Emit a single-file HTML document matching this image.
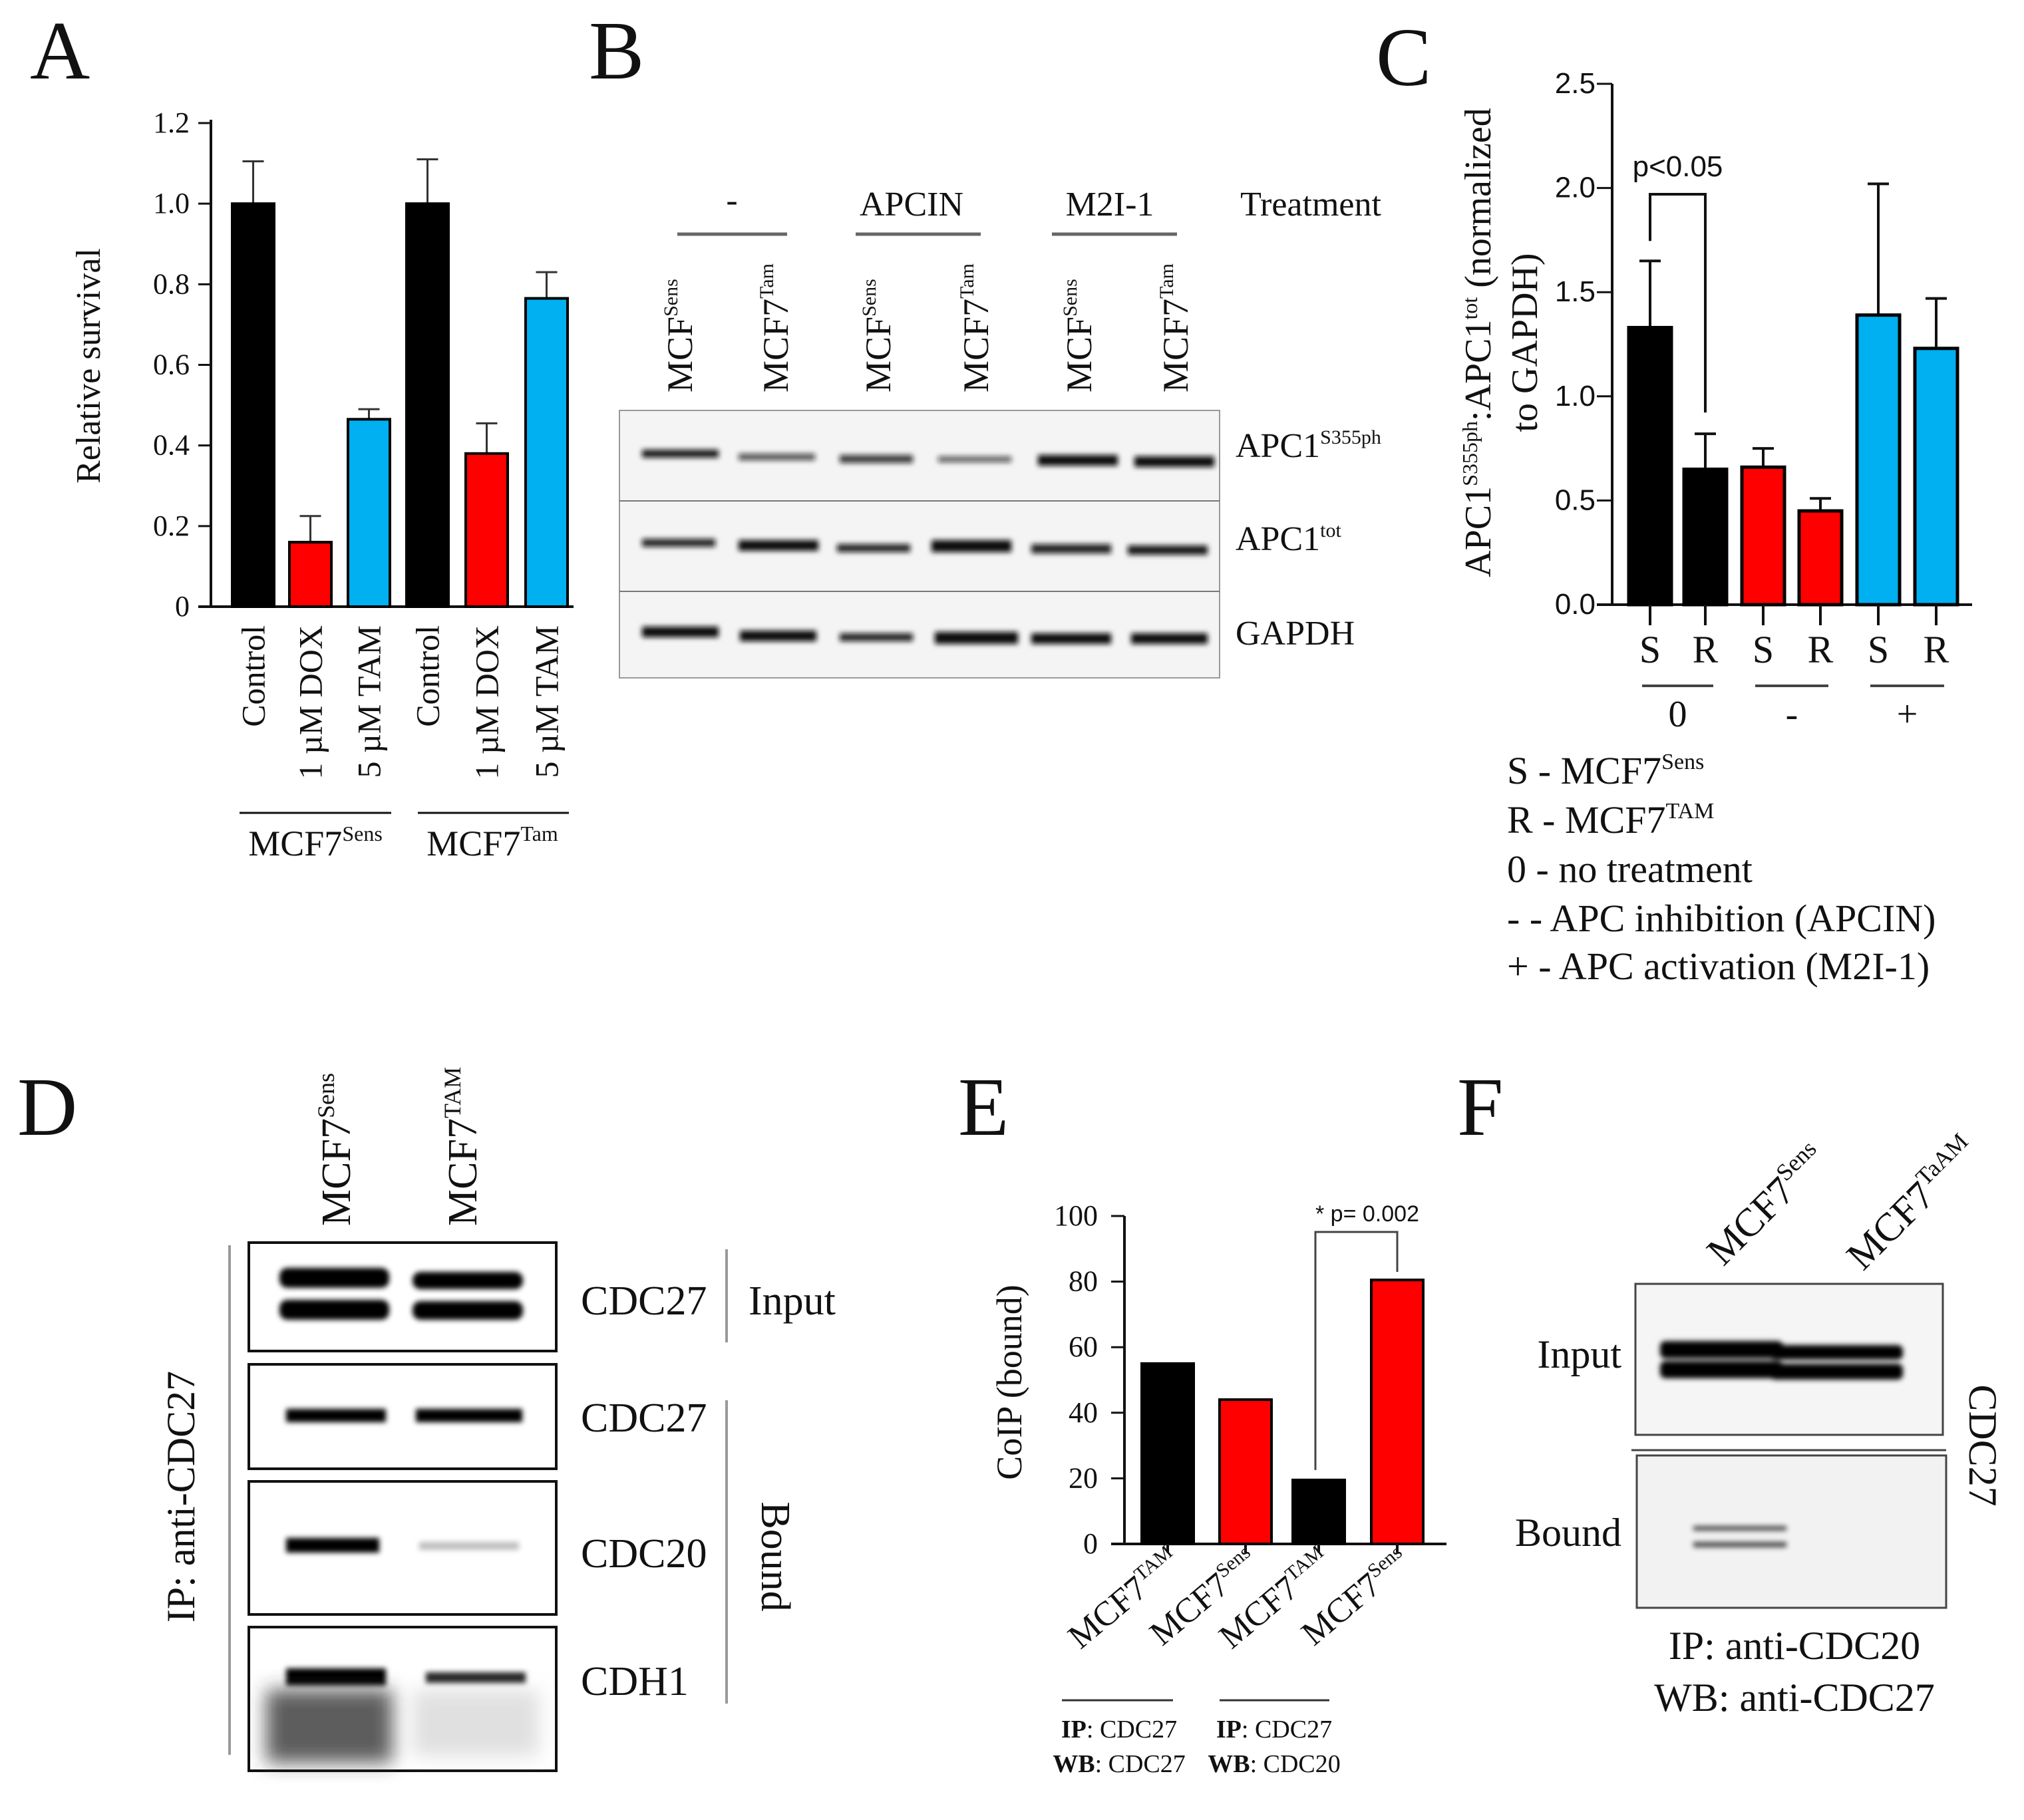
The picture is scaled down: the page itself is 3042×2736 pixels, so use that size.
<!DOCTYPE html>
<html><head><meta charset="utf-8"><style>
body{margin:0;background:#fff}
svg{display:block}
text{font-family:"Liberation Serif",serif;fill:#111}
.s{font-family:"Liberation Sans",sans-serif}
</style></head><body>
<svg id="fig" width="3042" height="2736" viewBox="0 0 3042 2736" xmlns="http://www.w3.org/2000/svg">
<defs>
<filter id="bl" x="-20%" y="-100%" width="140%" height="300%"><feGaussianBlur stdDeviation="4"/></filter>
<filter id="bl2" x="-20%" y="-50%" width="140%" height="200%"><feGaussianBlur stdDeviation="14"/></filter>
</defs>
<!-- panel letters -->
<text x="45" y="118" font-size="125">A</text>
<text x="885" y="118" font-size="125">B</text>
<text x="2068" y="128" font-size="125">C</text>
<text x="26" y="1706" font-size="125">D</text>
<text x="1440" y="1706" font-size="125">E</text>
<text x="2190" y="1706" font-size="125">F</text>

<g id="pa"></g>
<g id="pc"></g>
<g id="pe"></g>

<!-- Panel A static labels -->
<text transform="translate(150,550) rotate(-90)" font-size="52" text-anchor="middle">Relative survival</text>
<line x1="360" y1="1222" x2="588" y2="1222" stroke="#111" stroke-width="3"/>
<line x1="628" y1="1222" x2="855" y2="1222" stroke="#111" stroke-width="3"/>
<text x="474" y="1286" font-size="54" text-anchor="middle">MCF7<tspan font-size="32" dy="-22">Sens</tspan></text>
<text x="740" y="1286" font-size="54" text-anchor="middle">MCF7<tspan font-size="32" dy="-22">Tam</tspan></text>

<!-- Panel B -->
<g>
<text x="1100" y="318" font-size="52" text-anchor="middle">-</text>
<text x="1370" y="324" font-size="52" text-anchor="middle">APCIN</text>
<text x="1668" y="324" font-size="52" text-anchor="middle">M2I-1</text>
<text x="1970" y="324" font-size="52" text-anchor="middle">Treatment</text>
<line x1="1018" y1="352" x2="1183" y2="352" stroke="#666" stroke-width="5"/>
<line x1="1286" y1="352" x2="1474" y2="352" stroke="#666" stroke-width="5"/>
<line x1="1581" y1="352" x2="1769" y2="352" stroke="#666" stroke-width="5"/>
<g font-size="54">
<text transform="translate(1040,590) rotate(-90)">MCF<tspan font-size="30" dy="-22">Sens</tspan></text>
<text transform="translate(1184,590) rotate(-90)">MCF7<tspan font-size="30" dy="-22">Tam</tspan></text>
<text transform="translate(1338,590) rotate(-90)">MCF<tspan font-size="30" dy="-22">Sens</tspan></text>
<text transform="translate(1485,590) rotate(-90)">MCF7<tspan font-size="30" dy="-22">Tam</tspan></text>
<text transform="translate(1640,590) rotate(-90)">MCF<tspan font-size="30" dy="-22">Sens</tspan></text>
<text transform="translate(1785,590) rotate(-90)">MCF7<tspan font-size="30" dy="-22">Tam</tspan></text>
</g>
<rect x="931" y="617" width="902" height="402" fill="#f4f4f4" stroke="#999" stroke-width="2"/>
<line x1="931" y1="753" x2="1833" y2="753" stroke="#777" stroke-width="2"/>
<line x1="931" y1="889" x2="1833" y2="889" stroke="#777" stroke-width="2"/>
<g fill="#111" filter="url(#bl)">
<rect x="965" y="676" width="115" height="12" opacity=".95"/><rect x="1110" y="682" width="115" height="10" opacity=".7"/><rect x="1262" y="684" width="110" height="12" opacity=".8"/><rect x="1410" y="686" width="110" height="9" opacity=".65"/><rect x="1560" y="684" width="120" height="16" opacity="1"/><rect x="1705" y="686" width="120" height="16" opacity="1"/>
<rect x="965" y="810" width="110" height="12" opacity=".9"/><rect x="1110" y="812" width="120" height="16" opacity="1"/><rect x="1258" y="818" width="110" height="12" opacity=".9"/><rect x="1400" y="812" width="120" height="18" opacity="1"/><rect x="1550" y="818" width="120" height="14" opacity=".9"/><rect x="1695" y="820" width="120" height="14" opacity=".95"/>
<rect x="965" y="942" width="115" height="16" opacity="1"/><rect x="1112" y="948" width="115" height="16" opacity="1"/><rect x="1262" y="952" width="110" height="12" opacity=".9"/><rect x="1405" y="950" width="125" height="18" opacity="1"/><rect x="1550" y="952" width="120" height="16" opacity="1"/><rect x="1700" y="952" width="115" height="16" opacity="1"/>
</g>
<text x="1857" y="687" font-size="52">APC1<tspan font-size="30" dy="-20">S355ph</tspan></text>
<text x="1857" y="827" font-size="52">APC1<tspan font-size="30" dy="-20">tot</tspan></text>
<text x="1857" y="969" font-size="52">GAPDH</text>
</g>

<!-- Panel C static -->
<text transform="translate(2240,515) rotate(-90)" font-size="56" text-anchor="middle">APC1<tspan font-size="32" dy="-20">S355ph</tspan><tspan dy="20">:APC1</tspan><tspan font-size="32" dy="-20">tot</tspan><tspan dy="20"> (normalized</tspan></text>
<text transform="translate(2310,515) rotate(-90)" font-size="56" text-anchor="middle">to GAPDH)</text>
<g font-size="58">
<text x="2265" y="1178">S  - MCF7<tspan font-size="34" dy="-22">Sens</tspan></text>
<text x="2265" y="1252">R - MCF7<tspan font-size="34" dy="-22">TAM</tspan></text>
<text x="2265" y="1326">0   - no treatment</text>
<text x="2265" y="1400">-    - APC inhibition (APCIN)</text>
<text x="2265" y="1472">+   - APC activation (M2I-1)</text>
</g>

<!-- Panel D -->
<g>
<text transform="translate(526,1843) rotate(-90)" font-size="62">MCF7<tspan font-size="36" dy="-24">Sens</tspan></text>
<text transform="translate(716,1843) rotate(-90)" font-size="62">MCF7<tspan font-size="36" dy="-24">TAM</tspan></text>
<line x1="345" y1="1872" x2="345" y2="2638" stroke="#999" stroke-width="4"/>
<text transform="translate(292,2250) rotate(-90)" font-size="60" text-anchor="middle">IP: anti-CDC27</text>
<g fill="#fff" stroke="#111" stroke-width="4">
<rect x="374" y="1868" width="462" height="163"/><rect x="374" y="2051" width="462" height="157"/><rect x="374" y="2227" width="462" height="200"/><rect x="374" y="2446" width="462" height="216"/>
</g>
<g fill="#000" filter="url(#bl)">
<rect x="420" y="1906" width="165" height="30" rx="12"/><rect x="420" y="1954" width="165" height="30" rx="12"/>
<rect x="620" y="1912" width="166" height="26" rx="12"/><rect x="620" y="1956" width="166" height="28" rx="12"/>
<rect x="430" y="2118" width="150" height="20"/><rect x="625" y="2118" width="160" height="20"/>
<rect x="430" y="2312" width="140" height="22"/><rect x="630" y="2318" width="150" height="12" opacity=".25"/>
<rect x="430" y="2508" width="150" height="26"/><rect x="640" y="2514" width="150" height="16" opacity=".85"/>
</g>
<g filter="url(#bl2)"><rect x="400" y="2540" width="190" height="110" fill="#333" opacity=".8"/><rect x="620" y="2540" width="190" height="100" fill="#999" opacity=".3"/></g>
<g font-size="62">
<text x="873" y="1976">CDC27</text><text x="873" y="2152">CDC27</text><text x="873" y="2356">CDC20</text><text x="873" y="2548">CDH1</text>
<text x="1125" y="1976">Input</text>
</g>
<line x1="1092" y1="1878" x2="1092" y2="2018" stroke="#999" stroke-width="4"/>
<line x1="1092" y1="2105" x2="1092" y2="2561" stroke="#999" stroke-width="4"/>
<text transform="translate(1145,2340) rotate(90)" font-size="62" text-anchor="middle">Bound</text>
</g>

<!-- Panel E static -->
<text transform="translate(1535,2078) rotate(-90)" font-size="54" text-anchor="middle">CoIP (bound)</text>
<line x1="1596" y1="2556" x2="1763" y2="2556" stroke="#333" stroke-width="3"/>
<line x1="1833" y1="2556" x2="1998" y2="2556" stroke="#333" stroke-width="3"/>
<g font-size="38">
<text x="1682" y="2612" text-anchor="middle"><tspan font-weight="bold">IP</tspan>: CDC27</text>
<text x="1682" y="2664" text-anchor="middle"><tspan font-weight="bold">WB</tspan>: CDC27</text>
<text x="1915" y="2612" text-anchor="middle"><tspan font-weight="bold">IP</tspan>: CDC27</text>
<text x="1915" y="2664" text-anchor="middle"><tspan font-weight="bold">WB</tspan>: CDC20</text>
</g>

<!-- Panel F -->
<g>
<text transform="translate(2590,1905) rotate(-45)" font-size="60">MCF7<tspan font-size="36" dy="-24">Sens</tspan></text>
<text transform="translate(2800,1912) rotate(-45)" font-size="60">MCF7<tspan font-size="36" dy="-24">TaAM</tspan></text>
<rect x="2458" y="1930" width="462" height="227" fill="#f5f5f5" stroke="#444" stroke-width="3"/>
<line x1="2452" y1="2180" x2="2925" y2="2180" stroke="#444" stroke-width="3"/>
<rect x="2460" y="2188" width="465" height="229" fill="#f2f2f2" stroke="#444" stroke-width="3"/>
<g fill="#000" filter="url(#bl)">
<rect x="2495" y="2016" width="185" height="26" rx="8"/><rect x="2495" y="2046" width="185" height="26" rx="8"/>
<rect x="2660" y="2022" width="200" height="22" rx="8"/><rect x="2660" y="2050" width="200" height="24" rx="8"/>
<rect x="2545" y="2294" width="140" height="7" opacity=".7"/><rect x="2545" y="2318" width="140" height="8" opacity=".7"/>
</g>
<text x="2437" y="2056" font-size="60" text-anchor="end">Input</text>
<text x="2437" y="2324" font-size="60" text-anchor="end">Bound</text>
<text transform="translate(2960,2173) rotate(90)" font-size="60" text-anchor="middle">CDC27</text>
<text x="2697" y="2494" font-size="60" text-anchor="middle">IP: anti-CDC20</text>
<text x="2697" y="2572" font-size="60" text-anchor="middle">WB: anti-CDC27</text>
</g>
</svg>
<script>
// Panel A data
const aCats = ["Control","1 µM DOX","5 µM TAM","Control","1 µM DOX","5 µM TAM"];
const aVals = [1.0,0.16,0.465,1.0,0.38,0.765];
const aErr = [0.105,0.065,0.025,0.11,0.075,0.065];
const aColors = ["#000","#f00","#00b0f0","#000","#f00","#00b0f0"];
const aTicks = ["0","0.2","0.4","0.6","0.8","1.0","1.2"];
// Panel C data
const cCats = ["S","R","S","R","S","R"];
const cVals = [1.33,0.65,0.66,0.45,1.39,1.23];
const cErr = [0.32,0.17,0.09,0.06,0.63,0.24];
const cColors = ["#000","#000","#f00","#f00","#00b0f0","#00b0f0"];
const cTicks = ["0.0","0.5","1.0","1.5","2.0","2.5"];
const cGroups = ["0","-","+"];
// Panel E data
const eCats = ["MCF7TAM","MCF7Sens","MCF7TAM","MCF7Sens"];
const eVals = [55,44,19.5,80.5];
const eColors = ["#000","#f00","#000","#f00"];
const eTicks = ["0","20","40","60","80","100"];

const NS="http://www.w3.org/2000/svg";
function mk(p,tag,at){const e=document.createElementNS(NS,tag);for(const k in at)e.setAttribute(k,at[k]);p.appendChild(e);return e;}

// Panel A
(function(){
 const g=document.getElementById('pa');
 const x0=317,xe=862,y0=912,y1=185,vmax=1.2;
 const Y=v=>y0-(v/vmax)*(y0-y1);
 const lefts=[349,435,523,611,700,790],w=63;
 mk(g,'line',{x1:x0,y1:y1-5,x2:x0,y2:y0,stroke:'#111','stroke-width':4});
 mk(g,'line',{x1:298,y1:y0,x2:xe,y2:y0,stroke:'#111','stroke-width':4});
 aTicks.forEach(t=>{const v=parseFloat(t);
  mk(g,'line',{x1:298,y1:Y(v),x2:x0,y2:Y(v),stroke:'#111','stroke-width':3});
  const tx=mk(g,'text',{x:285,y:Y(v)+14,'font-size':44,'text-anchor':'end'});tx.textContent=t;
  
  });
 aVals.forEach((v,i)=>{const x=lefts[i];
  const cx=x+w/2;
  mk(g,'line',{x1:cx,y1:Y(v),x2:cx,y2:Y(v+aErr[i]),stroke:'#333','stroke-width':3});
  mk(g,'line',{x1:cx-16,y1:Y(v+aErr[i]),x2:cx+16,y2:Y(v+aErr[i]),stroke:'#333','stroke-width':3});
  const r=mk(g,'rect',{x:x,y:Y(v),width:w,height:y0-Y(v),fill:aColors[i],stroke:'#000','stroke-width':4});
  
  
  const t=mk(g,'text',{transform:`translate(${cx+17},940) rotate(-90)`,'font-size':50,'text-anchor':'end'});t.textContent=aCats[i];
  
  
 });
})();

// Panel C
(function(){
 const g=document.getElementById('pc');
 const x0=2423,xe=2964,y0=909,y1=126,vmax=2.5;
 const Y=v=>y0-(v/vmax)*(y0-y1);
 const lefts=[2448,2531,2618,2704,2791,2878],w=64;
 mk(g,'line',{x1:x0,y1:y1,x2:x0,y2:y0,stroke:'#111','stroke-width':4});
 mk(g,'line',{x1:2400,y1:y0,x2:xe,y2:y0,stroke:'#111','stroke-width':4});
 cTicks.forEach(t=>{const v=parseFloat(t);
  mk(g,'line',{x1:2400,y1:Y(v),x2:x0,y2:Y(v),stroke:'#111','stroke-width':3});
  const tx=mk(g,'text',{x:2398,y:Y(v)+14,'font-size':44,'text-anchor':'end'});tx.textContent=t;
  tx.setAttribute('class','s');
  
  });
 cVals.forEach((v,i)=>{const x=lefts[i],cx=x+w/2;
  mk(g,'line',{x1:cx,y1:Y(v),x2:cx,y2:Y(v+cErr[i]),stroke:'#111','stroke-width':4});
  mk(g,'line',{x1:cx-16,y1:Y(v+cErr[i]),x2:cx+16,y2:Y(v+cErr[i]),stroke:'#111','stroke-width':4});
  const r=mk(g,'rect',{x:x,y:Y(v),width:w,height:y0-Y(v),fill:cColors[i],stroke:'#000','stroke-width':5});
  
  
  mk(g,'line',{x1:cx,y1:y0,x2:cx,y2:940,stroke:'#111','stroke-width':4});
  const t=mk(g,'text',{x:cx,y:996,'font-size':58,'text-anchor':'middle'});t.textContent=cCats[i];
  
  
 });
 cGroups.forEach((s,j)=>{const a=lefts[2*j]+w/2-12,b=lefts[2*j+1]+w/2+12;
  mk(g,'line',{x1:a,y1:1031,x2:b,y2:1031,stroke:'#444','stroke-width':4});
  const t=mk(g,'text',{x:(a+b)/2,y:1092,'font-size':56,'text-anchor':'middle'});t.textContent=s;
  
  });
 const l=lefts[0]+w/2,r=lefts[1]+w/2;
 mk(g,'polyline',{points:`${l},${Y(1.65)-30} ${l},292 ${r},292 ${r},${Y(cVals[1]+cErr[1])-32}`,fill:'none',stroke:'#111','stroke-width':4});
 const pt=mk(g,'text',{x:(l+r)/2,y:265,'font-size':44,'text-anchor':'middle',class:'s'});pt.textContent='p<0.05';
})();

// Panel E
(function(){
 const g=document.getElementById('pe');
 const x0=1690,xe=2174,y0=2321,y1=1828,vmax=100;
 const Y=v=>y0-(v/vmax)*(y0-y1);
 const lefts=[1716,1833,1943,2061],w=78;
 mk(g,'line',{x1:x0,y1:y1,x2:x0,y2:y0,stroke:'#111','stroke-width':4});
 mk(g,'line',{x1:1670,y1:y0,x2:xe,y2:y0,stroke:'#111','stroke-width':4});
 eTicks.forEach(t=>{const v=parseFloat(t);
  mk(g,'line',{x1:1670,y1:Y(v),x2:x0,y2:Y(v),stroke:'#111','stroke-width':3});
  const tx=mk(g,'text',{x:1650,y:Y(v)+14,'font-size':44,'text-anchor':'end'});tx.textContent=t;
  
  });
 eVals.forEach((v,i)=>{const x=lefts[i],cx=x+w/2;
  const r=mk(g,'rect',{x:x,y:Y(v),width:w,height:y0-Y(v),fill:eColors[i],stroke:'#000','stroke-width':4});
  
  
  mk(g,'line',{x1:cx,y1:y0,x2:cx,y2:2334,stroke:'#111','stroke-width':4});
  const sup=eCats[i].slice(4);
  const t=mk(g,'text',{transform:`translate(${cx+22},2352) rotate(-40)`,'font-size':52,'text-anchor':'end'});
  t.innerHTML='MCF7<tspan font-size="30" dy="-20">'+sup+'</tspan>';
  
  
 });
 const l=lefts[2]+w/2-5,r=lefts[3]+w/2;
 mk(g,'polyline',{points:`${l},${Y(eVals[2])-15} ${l},1852 ${r},1852 ${r},${Y(eVals[3])-12}`,fill:'none',stroke:'#444','stroke-width':3});
 const pt=mk(g,'text',{x:1977,y:1836,'font-size':34,class:'s'});pt.textContent='* p= 0.002';
})();
</script>
</body></html>
